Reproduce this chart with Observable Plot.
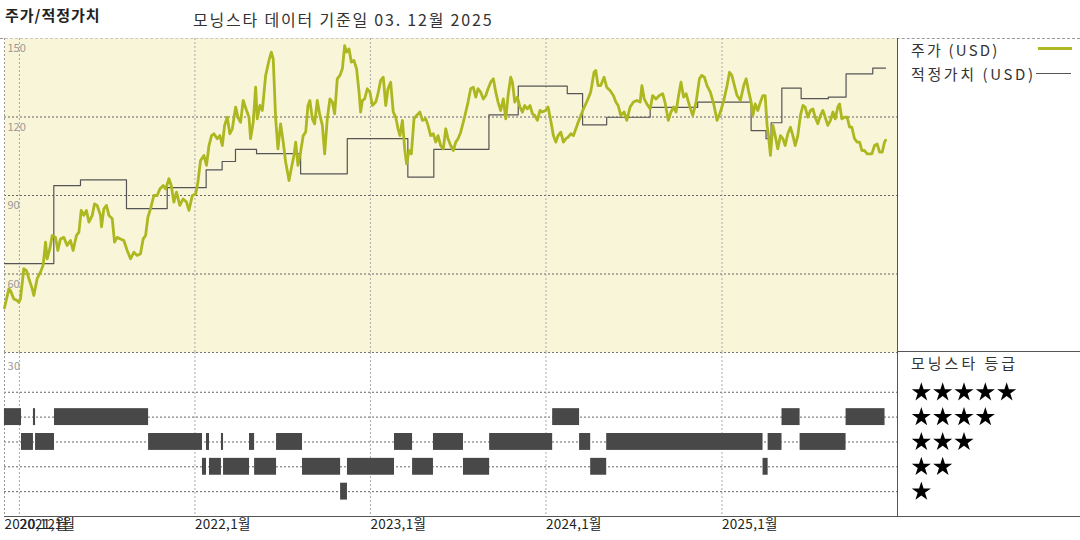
<!DOCTYPE html>
<html>
<head>
<meta charset="utf-8">
<script src="https://cdn.jsdelivr.net/npm/d3@7"></script>
<script src="https://cdn.jsdelivr.net/npm/@observablehq/plot@0.6"></script>
<style>
  body { margin:0; width:1080px; height:540px; position:relative; background:#fff; overflow:hidden;
         font-family:"Noto Sans CJK KR","Noto Sans",sans-serif; color:#222; }
  .abs { position:absolute; white-space:nowrap; }
  #botchart text { letter-spacing: 0.3px; }
</style>
</head>
<body>
<div class="abs" style="left:5px;top:5px;font-size:15px;font-weight:bold;line-height:20px;letter-spacing:1px;">주가/적정가치</div>
<div class="abs" style="left:193px;top:9px;font-size:16px;line-height:20px;color:#333;letter-spacing:1.8px;">모닝스타 데이터 기준일 03. 12월 2025</div>
<div class="abs" style="left:0;top:38px;width:1080px;border-top:1px dashed #9a9a9a;"></div>
<div id="topchart" class="abs" style="left:0;top:38px;"></div>
<div id="botchart" class="abs" style="left:0;top:352px;"></div>
<div id="starchart" class="abs" style="left:897px;top:352px;"></div>
<div class="abs" style="left:897px;top:38px;width:183px;height:478px;border-left:1px solid #555;border-bottom:1px solid #555;"></div>
<div class="abs" style="left:897px;top:351px;width:183px;border-top:1px solid #555;"></div>
<div class="abs" style="left:911px;top:40px;font-size:15px;line-height:20px;color:#333;letter-spacing:2.2px;">주가 (USD)</div>
<div class="abs" style="left:1038px;top:47px;width:34px;height:3px;background:#b0b923;"></div>
<div class="abs" style="left:911px;top:64px;font-size:15px;line-height:20px;color:#333;letter-spacing:2.6px;">적정가치 (USD)</div>
<div class="abs" style="left:1036px;top:73px;width:35px;height:1px;background:#555;"></div>
<div class="abs" style="left:911px;top:353px;font-size:15px;line-height:20px;color:#333;letter-spacing:3px;">모닝스타 등급</div>
<script>
// ---------- DATA (dates as decimal years) ----------
const priceSeries = [
[2020.915,47],[2020.940,54.3],[2020.949,53.7],[2020.968,50.5],[2020.987,49.9],[2020.997,49.2],[2021.006,50.5],[2021.025,62],[2021.040,61.3],[2021.054,58.2],[2021.073,54.3],[2021.082,51.8],[2021.101,58.2],[2021.120,60.7],[2021.135,63.3],[2021.149,72.2],[2021.158,65.8],[2021.173,69.6],[2021.187,74.7],[2021.206,74],[2021.219,69],[2021.234,73.4],[2021.253,74],[2021.272,70.9],[2021.291,72.8],[2021.306,69],[2021.325,74.7],[2021.339,76],[2021.352,84.3],[2021.367,82.4],[2021.382,84.3],[2021.396,79.8],[2021.415,82.4],[2021.428,86.8],[2021.443,86.2],[2021.462,82.4],[2021.468,78],[2021.481,84.9],[2021.496,86.2],[2021.510,82.4],[2021.529,81.1],[2021.542,72.2],[2021.557,74],[2021.576,73.4],[2021.595,72.8],[2021.614,69],[2021.633,65.8],[2021.652,68.3],[2021.671,67.1],[2021.690,67.7],[2021.705,73.4],[2021.719,74.7],[2021.732,81.7],[2021.747,84.9],[2021.766,90],[2021.785,90],[2021.800,92.5],[2021.819,93.8],[2021.833,92.5],[2021.852,96.4],[2021.865,93.8],[2021.880,87.5],[2021.895,91.3],[2021.914,86.2],[2021.933,88.7],[2021.952,87.5],[2021.966,84.3],[2021.985,90],[2022.004,90.6],[2022.017,95.1],[2022.032,103.4],[2022.051,105.3],[2022.066,101.5],[2022.080,109.1],[2022.095,112.9],[2022.108,113.6],[2022.127,111.7],[2022.142,112.9],[2022.156,109.1],[2022.169,116.8],[2022.184,119.9],[2022.199,113.6],[2022.213,115.5],[2022.232,123.8],[2022.245,119.9],[2022.260,118],[2022.275,126.3],[2022.294,122.5],[2022.308,119.9],[2022.317,111.7],[2022.332,118],[2022.346,131.4],[2022.355,119.3],[2022.370,124.4],[2022.384,122.5],[2022.403,135.9],[2022.422,141.6],[2022.435,144.8],[2022.446,142.2],[2022.460,119.3],[2022.473,107.8],[2022.488,117.4],[2022.503,110.4],[2022.517,102.7],[2022.536,95.7],
[2022.545,99],[2022.564,105.3],[2022.574,110.4],[2022.587,101.5],[2022.602,106.6],[2022.617,112.9],[2022.631,114.2],[2022.644,124.4],[2022.655,126.3],[2022.669,119.3],[2022.682,117.4],[2022.697,126.3],[2022.712,120.6],[2022.726,116.8],[2022.739,105.9],[2022.754,119.3],[2022.769,126.9],[2022.783,125.7],[2022.796,121.2],[2022.811,134.6],[2022.826,135.9],[2022.840,138.4],[2022.853,147.3],[2022.864,144.8],[2022.878,146],[2022.891,141],[2022.906,141.6],[2022.921,138.4],[2022.935,129.5],[2022.944,121.9],[2022.954,126.3],[2022.967,126.9],[2022.982,130.8],[2022.997,129.5],[2023.011,124.4],[2023.030,125.7],[2023.043,128.9],[2023.058,134],[2023.073,135.2],[2023.087,124.4],[2023.100,130.8],[2023.115,133.3],[2023.130,121.9],[2023.144,119.9],[2023.157,115.5],[2023.168,112.9],[2023.182,118.7],[2023.195,107.8],[2023.206,102.1],[2023.220,107.2],[2023.233,105.9],[2023.248,119.3],[2023.263,120.6],[2023.282,121.9],[2023.296,118.7],[2023.315,119.3],[2023.328,116.8],[2023.343,112.9],[2023.358,113.6],[2023.372,110.4],[2023.385,112.9],[2023.400,109.1],[2023.415,107.8],[2023.429,115.5],[2023.442,111.7],[2023.457,109.1],[2023.472,107.2],[2023.486,110.4],[2023.499,111.7],[2023.514,114.2],[2023.529,118],[2023.543,121.9],[2023.556,125.7],[2023.571,130.8],[2023.586,131.4],[2023.600,127.6],[2023.613,130.8],[2023.628,129.5],[2023.643,126.9],[2023.657,128.2],[2023.670,130.8],[2023.685,133.3],[2023.700,134.6],[2023.714,129.5],[2023.727,125.7],[2023.742,122.5],[2023.757,126.9],[2023.771,119.3],[2023.784,128.2],[2023.799,135.2],[2023.809,133.3],[2023.822,125.7],[2023.837,127.6],[2023.852,123.8],[2023.866,121.9],[2023.879,124.4],[2023.894,123.1],[2023.909,124.4],[2023.923,121.2],[2023.936,120.6],[2023.951,118.7],[2023.966,122.5],[2023.979,121.9],[2023.998,122.5],[2024.012,123.8],[2024.027,118.7],[2024.042,112.9],[2024.056,110.4],[2024.069,112.9],[2024.084,114.2],[2024.099,110.4],[2024.113,111.7],[2024.126,112.3],[2024.141,113.6],[2024.156,112.9],[2024.170,115.5],[2024.183,118],[2024.198,120.6],[2024.213,123.1],
[2024.235,126.3],[2024.254,129.5],[2024.273,137.1],[2024.283,137.8],[2024.296,132],[2024.311,132],[2024.330,135.2],[2024.345,131.4],[2024.364,130.1],[2024.383,128.2],[2024.397,125.7],[2024.410,124.4],[2024.425,120.6],[2024.444,121.9],[2024.459,118.7],[2024.478,123.8],[2024.497,125.7],[2024.516,126.3],[2024.535,125.7],[2024.545,132],[2024.558,126.9],[2024.573,125],[2024.592,123.1],[2024.606,128.2],[2024.625,126.9],[2024.644,128.2],[2024.663,128.9],[2024.676,125.7],[2024.695,118.7],[2024.710,121.9],[2024.725,123.8],[2024.739,121.9],[2024.752,127.6],[2024.767,133.3],[2024.782,127.6],[2024.796,128.9],[2024.815,124.4],[2024.834,120.6],[2024.853,125.7],[2024.872,134.6],[2024.885,135.9],[2024.900,135.2],[2024.915,132],[2024.934,129.5],[2024.953,125],[2024.972,118.7],[2024.991,121.9],[2025.010,126.3],[2025.029,132],[2025.043,137.1],[2025.056,135.9],[2025.071,132],[2025.086,128.2],[2025.105,126.3],[2025.124,132],[2025.138,134.6],[2025.151,130.1],[2025.166,125.7],[2025.176,120.6],[2025.189,125],[2025.204,122.5],[2025.219,125.7],[2025.233,128.2],[2025.246,128.2],[2025.257,116.8],[2025.265,112.9],[2025.276,105.3],[2025.290,116.8],[2025.303,112.9],[2025.318,107.8],[2025.333,112.9],[2025.347,111.7],[2025.360,109.1],[2025.375,113.6],[2025.390,116.1],[2025.404,112.9],[2025.417,109.1],[2025.432,112.9],[2025.447,120.6],[2025.461,124.4],[2025.474,123.8],[2025.489,119.9],[2025.504,122.5],[2025.518,123.1],[2025.531,119.9],[2025.546,117.4],[2025.561,120.6],[2025.575,122.5],[2025.588,119.9],[2025.603,116.8],[2025.618,118.7],[2025.632,121.9],[2025.645,119.3],[2025.660,123.8],[2025.670,125],[2025.683,119.3],[2025.698,119.9],[2025.713,119.9],[2025.727,116.1],[2025.740,116.1],[2025.755,111.7],[2025.770,110.4],[2025.784,110.4],[2025.797,107.2],[2025.812,107.2],[2025.827,105.9],[2025.841,105.9],[2025.854,105.9],[2025.869,109.1],[2025.884,109.7],[2025.898,106.6],[2025.913,106.6],[2025.926,110.4],[2025.932,111.1]
];
const fairValueSeries = [
[2020.915,64],[2021.196,93.8],[2021.348,96],[2021.610,85],[2021.842,93],[2022.064,99.8],[2022.155,103],[2022.231,107.6],[2022.351,106],[2022.602,98.3],[2022.868,111.7],[2023.213,97],[2023.361,107.6],[2023.675,120.8],[2023.842,131.8],[2024.121,128.9],[2024.208,117],[2024.345,119.9],[2024.592,123.7],[2024.862,125.7],[2025.166,114.8],[2025.251,111.7],[2025.280,117.8],[2025.341,131],[2025.451,127],[2025.606,127.6],[2025.707,136.5],[2025.859,138.7],[2025.932,138.7]
];
// [start, end, star rating]
const ratingSegments = [
[2020.915,2021.012,4],[2021.012,2021.080,3],[2021.080,2021.092,4],[2021.092,2021.200,3],[2021.200,2021.736,4],[2021.736,2022.043,3],[2022.043,2022.066,2],[2022.066,2022.083,3],[2022.083,2022.151,2],[2022.151,2022.163,3],[2022.163,2022.311,2],[2022.311,2022.340,3],[2022.340,2022.465,2],[2022.465,2022.613,3],[2022.613,2022.830,2],[2022.830,2022.869,1],[2022.869,2023.137,2],[2023.137,2023.240,3],[2023.240,2023.359,2],[2023.359,2023.530,3],[2023.530,2023.679,2],[2023.679,2024.038,3],[2024.038,2024.191,4],[2024.191,2024.254,3],[2024.254,2024.345,2],[2024.345,2025.234,3],[2025.234,2025.263,2],[2025.263,2025.342,3],[2025.342,2025.445,4],[2025.445,2025.707,3],[2025.707,2025.929,4]
];
const priceTicks = [60, 90, 120, 150];
const starLevels = [1, 2, 3, 4, 5];
const xTickDates = ["2020-12-01","2021-01-01","2022-01-01","2023-01-01","2024-01-01","2025-01-01"];
const xTickLabels = ["2020,12월","2021,1월","2022,1월","2023,1월","2024,1월","2025,1월"];
const yearGrid = ["2021-01-01","2022-01-01","2023-01-01","2024-01-01","2025-01-01"];
const xStart = "2020-12-01", xEnd = "2026-01-01";

// ---------- helpers ----------
function dec(t) {
  const y = Math.floor(t), a = Date.UTC(y,0,1), b = Date.UTC(y+1,0,1);
  return new Date(a + (t - y) * (b - a));
}
const price = priceSeries.map(([t,v]) => ({date: dec(t), value: v}));
const fair = fairValueSeries.map(([t,v]) => ({date: dec(t), value: v}));
const ratings = ratingSegments.map(([s,e,r]) => ({start: dec(s), end: dec(e), stars: r}));
const tickDates = xTickDates.map(d => new Date(d));
const gridDates = yearGrid.map(d => new Date(d));
const xDomain = [new Date(xStart), new Date(xEnd)];
const font = '"Noto Sans CJK KR","Noto Sans",sans-serif';

const topChart = Plot.plot({
  width: 1080, height: 314,
  marginLeft: 4, marginRight: 183, marginTop: 0, marginBottom: 0,
  x: {type: "utc", domain: xDomain, axis: null},
  y: {domain: [30, 150], axis: null},
  style: {fontFamily: font, background: "transparent", overflow: "visible"},
  marks: [
    Plot.frame({fill: "#f9f5d8", stroke: null}),
    Plot.ruleY([60, 90, 120], {stroke: "#666", strokeDasharray: "2,2"}),
    Plot.ruleY([30], {stroke: "#777", strokeDasharray: "2,2"}),
    Plot.ruleX(gridDates, {stroke: "#aaa", strokeDasharray: "2,2"}),
    Plot.ruleX([xDomain[0]], {stroke: "#999", strokeDasharray: "2,2"}),
    Plot.text(priceTicks, {x: () => xDomain[0], y: d => d, text: d => String(d), textAnchor: "start", dx: 3, dy: 10, fill: "#999", fontSize: 11}),
    Plot.line(fair, {x: "date", y: "value", curve: "step-after", stroke: "#555", strokeWidth: 1.2}),
    Plot.line(price, {x: "date", y: "value", stroke: "#adb720", strokeWidth: 2.8})
  ]
});
document.getElementById("topchart").appendChild(topChart);

const botChart = Plot.plot({
  width: 1080, height: 188,
  marginLeft: 4, marginRight: 183, marginTop: 0, marginBottom: 24,
  x: {type: "utc", domain: xDomain},
  y: {domain: [0, 6.6], axis: null},
  style: {fontFamily: font, background: "transparent", overflow: "visible"},
  marks: [
    Plot.ruleY(starLevels, {stroke: "#666", strokeDasharray: "2,2"}),
    Plot.ruleX(gridDates, {stroke: "#aaa", strokeDasharray: "2,2"}),
    Plot.ruleX([xDomain[0]], {stroke: "#999", strokeDasharray: "2,2"}),
    Plot.text(["30"], {frameAnchor: "top-left", dx: 3, dy: 10, fill: "#999", fontSize: 11}),
    Plot.rect(ratings, {x1: "start", x2: "end", y1: d => d.stars - 0.34, y2: d => d.stars + 0.34, fill: "#484848"}),
    Plot.ruleY([0], {stroke: "#555"}),
    Plot.axisX(tickDates, {tickSize: 0, tickPadding: 3, textAnchor: "start", fontSize: 13.5, fill: "#222",
      tickFormat: (d, i) => xTickLabels[i], label: null})
  ]
});
document.getElementById("botchart").appendChild(botChart);

// star legend (right panel): one star symbol per rating step
const starCells = starLevels.flatMap(s => d3.range(1, s + 1).map(k => ({k, s})));
const starChart = Plot.plot({
  width: 183, height: 164,
  margin: 0,
  x: {domain: [0, 9], range: [2.5, 194.5], axis: null},
  y: {domain: [0, 6.6], axis: null},
  style: {background: "transparent", overflow: "visible"},
  marks: [
    Plot.dot(starCells, {x: "k", y: "s", symbol: "star", r: 6, fill: "#000", stroke: null})
  ]
});
document.getElementById("starchart").appendChild(starChart);
</script>
</body>
</html>
